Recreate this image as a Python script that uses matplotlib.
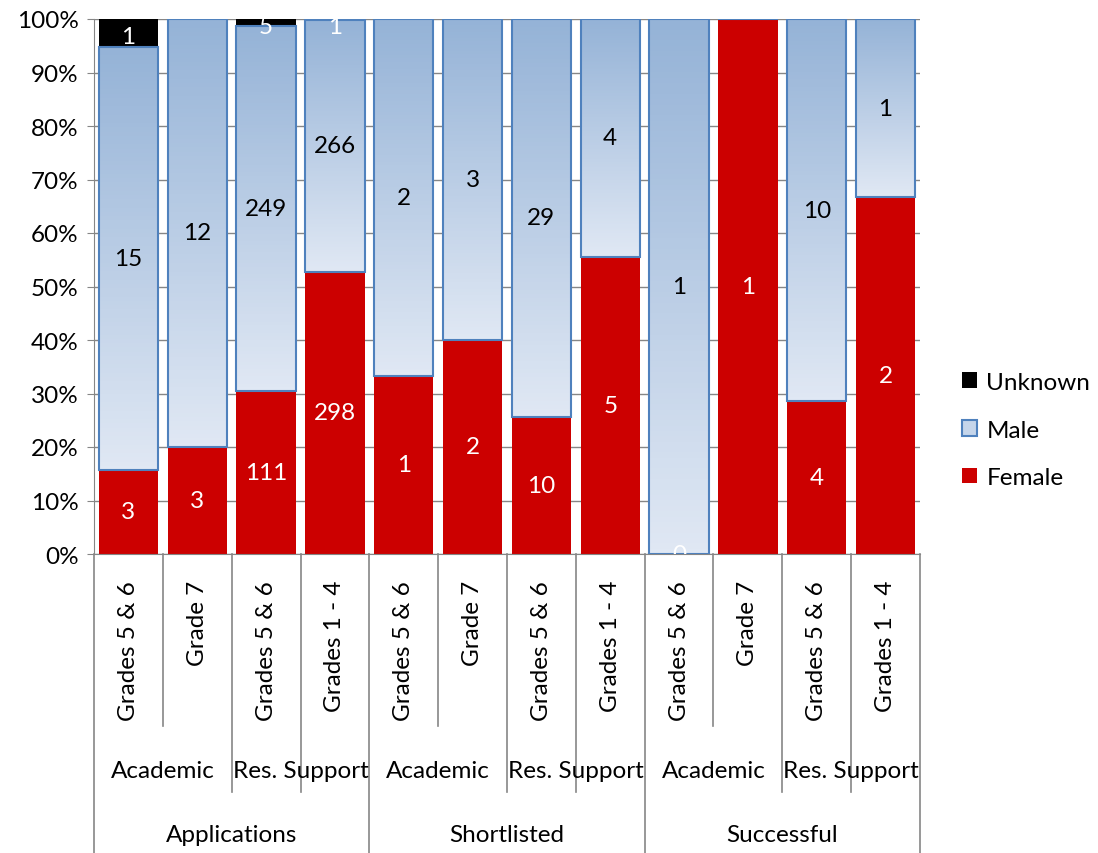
import numpy as np
import matplotlib
matplotlib.use('Agg')
import matplotlib.pyplot as plt
import matplotlib.transforms as mtrans
from matplotlib.colors import LinearSegmentedColormap
from matplotlib.patches import Patch
from matplotlib.ticker import PercentFormatter

plt.rcParams['font.family'] = ['Lato', 'DejaVu Sans']

# data
stages = ['Applications', 'Shortlisted', 'Successful']
roles = ['Academic', 'Res. Support']
grades = ['Grades 5 & 6', 'Grade 7', 'Grades 5 & 6', 'Grades 1 - 4'] * 3
female = [3, 3, 111, 298, 1, 2, 10, 5, 0, 1, 4, 2]
male = [15, 12, 249, 266, 2, 3, 29, 4, 1, 0, 10, 1]
unknown = [1, 0, 5, 1, 0, 0, 0, 0, 0, 0, 0, 0]

RED = '#CC0000'
EDGE = '#4F81BD'
GRID = '#868686'
FS = 17.5

def main():
	f = np.array(female, float)
	m = np.array(male, float)
	u = np.array(unknown, float)
	tot = f + m + u
	fp, mp, up = f / tot, m / tot, u / tot
	x = np.arange(len(grades))
	w = 0.86

	fig = plt.figure(figsize=(10.98, 8.54), dpi=100)
	ax = fig.add_axes([94/1098, 1-555/854, (920-94)/1098, (555-20)/854])

	ax.bar(x, fp, w, color=RED, zorder=2)
	mbars = ax.bar(x, mp, w, bottom=fp, facecolor='none', edgecolor=EDGE, linewidth=1.5, zorder=3)
	ax.bar(x, up, w, bottom=fp + mp, color='black', zorder=2)

	cmap = LinearSegmentedColormap.from_list('m', ['#E0E8F4', '#95B3D7'])
	grad = np.linspace(1, 0, 100).reshape(-1, 1)
	for i, r in enumerate(mbars):
		if mp[i] <= 0:
			continue
		im = ax.imshow(grad, extent=[x[i]-w/2, x[i]+w/2, fp[i], fp[i]+mp[i]],
			aspect='auto', cmap=cmap, vmin=0, vmax=1, zorder=2.5)
		im.set_clip_path(r)

	for i in x:
		ax.text(i, fp[i]/2, str(female[i]), ha='center', va='center', color='white', fontsize=FS, zorder=5, clip_on=True)
		if male[i] > 0:
			ax.text(i, fp[i] + mp[i]/2, str(male[i]), ha='center', va='center', color='black', fontsize=FS, zorder=5)
		if unknown[i] > 0:
			ax.text(i, min(1 - up[i]/2 - 0.006, 0.986), str(unknown[i]), ha='center', va='center', color='white', fontsize=FS, zorder=5, clip_on=True)

	ax.set_xlim(-0.5, len(grades) - 0.5)
	ax.set_ylim(0, 1)
	ax.set_yticks(np.arange(0, 1.01, 0.1))
	ax.yaxis.set_major_formatter(PercentFormatter(1, decimals=0))
	ax.tick_params(axis='y', labelsize=FS, length=5, color=GRID, pad=6)
	ax.set_xticks([])
	ax.yaxis.grid(True, color=GRID, linewidth=1)
	ax.set_axisbelow(True)
	for s in ['top', 'right']:
		ax.spines[s].set_visible(False)
	for s in ['left', 'bottom']:
		ax.spines[s].set_color(GRID)

	# multi level category axis
	tr = mtrans.blended_transform_factory(ax.transData, ax.transAxes)
	ylv1, ylv2, ylv3 = -(727-555)/535, -(793-555)/535, -(854-555)/535
	for b in np.arange(-0.5, len(grades), 1):
		if b in (-0.5, 3.5, 7.5, 11.5):
			y0 = ylv3
		elif b in (0.5, 4.5, 8.5):
			y0 = ylv1
		else:
			y0 = ylv2
		ax.plot([b, b], [0, y0], color=GRID, lw=1.2, transform=tr, clip_on=False)

	for i in x:
		ax.text(i, -(581-555)/535, grades[i], rotation=90, ha='center', va='top', fontsize=FS, transform=tr)
	for k, st in enumerate(stages):
		for j, ro in enumerate(roles):
			ax.text(4*k + 2*j + 0.5, -(771-555)/535, ro, ha='center', va='center', fontsize=FS, transform=tr)
		ax.text(4*k + 1.5, -(836-555)/535, st, ha='center', va='center', fontsize=FS, transform=tr)

	handles = [Patch(facecolor='black', label='Unknown'),
		Patch(facecolor='#C5D5EA', edgecolor=EDGE, linewidth=1.5, label='Male'),
		Patch(facecolor=RED, label='Female')]
	fig.legend(handles=handles, loc='center left', bbox_to_anchor=(962/1098, 1-431/854),
		frameon=False, fontsize=FS, handlelength=0.6, handleheight=0.6, handletextpad=0.4,
		labelspacing=1.1, borderpad=0, borderaxespad=0)

	fig.savefig('out.png', dpi=100)


if __name__ == "__main__":
	main()
